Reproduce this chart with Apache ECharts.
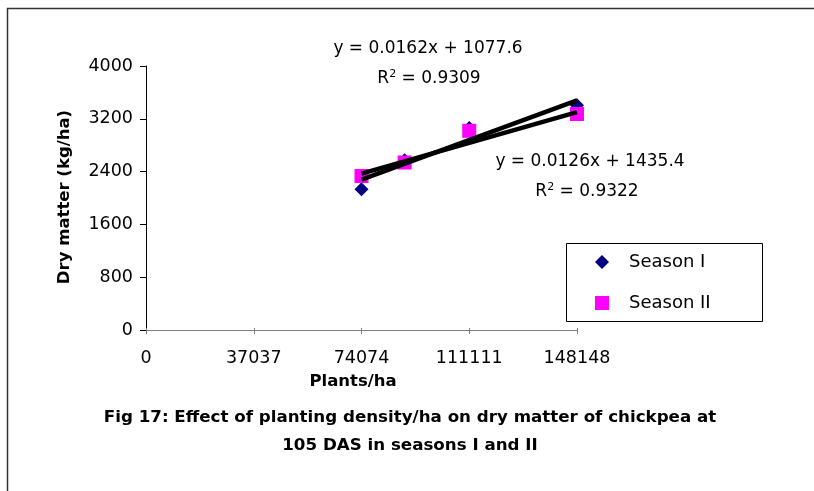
<!DOCTYPE html>
<html>
<head>
<meta charset="utf-8">
<script src="https://cdn.jsdelivr.net/npm/echarts@6/dist/echarts.min.js"></script>
<style>
  html, body { margin: 0; padding: 0; background: #fff; }
  #chart { width: 814px; height: 491px; }
</style>
</head>
<body>
<div id="chart"></div>
<script>
// Plant densities (plants/ha) and dry matter at 105 DAS (kg/ha)
const densities = [74074, 88889, 111111, 148148];
const seasonI = [2132, 2571, 3060, 3404];
const seasonII = [2333, 2538, 3018, 3273];

// Linear trendlines as reported on the chart
const seriesNames = ['Season I', 'Season II'];
const slopes = [0.0162, 0.0126];
const intercepts = [1077.6, 1435.4];
const rSquared = ['0.9309', '0.9322'];

// Axis settings
const xTickStep = 37037;
const xMax = 148148;
const yTickStep = 800;
const yMax = 4000;

const FONT = '"DejaVu Sans", sans-serif';

function pairs(xs, ys) {
  return xs.map((x, i) => [x, ys[i]]);
}
function trend(k) {
  const x0 = densities[0], x1 = densities[densities.length - 1];
  return [[x0, slopes[k] * x0 + intercepts[k]], [x1, slopes[k] * x1 + intercepts[k]]];
}
function eqText(k) {
  return 'y = ' + slopes[k].toFixed(4) + 'x + ' + intercepts[k].toFixed(1);
}

const chart = echarts.init(document.getElementById('chart'), null, { renderer: 'canvas' });

const axisBase = {
  type: 'value',
  min: 0,
  splitLine: { show: false }
};

const eqFont = '17px ' + FONT;
const supRich = { sup: { fontSize: 11, fontFamily: FONT, verticalAlign: 'top', lineHeight: 20 } };

chart.setOption({
  backgroundColor: '#ffffff',
  animation: false,
  grid: { left: 146, top: 66, width: 431, height: 264, outerBoundsMode: 'none' },
  xAxis: [
    Object.assign({}, axisBase, {
      max: xMax, interval: xTickStep, position: 'bottom',
      axisLine: { lineStyle: { color: '#808080', width: 1 } },
      axisTick: { length: 4, lineStyle: { color: '#808080' } },
      axisLabel: { margin: 19, color: '#000', fontFamily: FONT, fontSize: 17.5,
        formatter: v => String(v) }
    }),
    Object.assign({}, axisBase, {
      max: xMax, interval: xTickStep, position: 'bottom',
      axisLine: { show: false },
      axisTick: { inside: true, length: 2, lineStyle: { color: '#808080' } },
      axisLabel: { show: false }
    })
  ],
  yAxis: Object.assign({}, axisBase, {
    max: yMax, interval: yTickStep,
    axisLine: { show: true, lineStyle: { color: '#000', width: 1 } },
    axisTick: { show: true, length: 6, lineStyle: { color: '#000' } },
    axisLabel: { margin: 13, color: '#000', fontFamily: FONT, fontSize: 17.5,
      formatter: v => String(v) }
  }),
  legend: {
    data: seriesNames,
    orient: 'vertical',
    left: 590,
    top: 247,
    itemWidth: 14,
    itemHeight: 14,
    itemGap: 21,
    textStyle: { color: '#000', fontFamily: FONT, fontSize: 18, lineHeight: 20, padding: [0, 0, 0, 15] }
  },
  series: [
    {
      name: seriesNames[0], type: 'scatter', symbol: 'diamond', symbolSize: 14,
      itemStyle: { color: '#000080', opacity: 1 }, data: pairs(densities, seasonI), z: 2
    },
    {
      name: seriesNames[1], type: 'scatter', symbol: 'rect', symbolSize: 14,
      itemStyle: { color: '#FF00FF', opacity: 1 }, data: pairs(densities, seasonII), z: 3
    },
    {
      name: 'trend I', type: 'line', data: trend(0), symbol: 'none', silent: true,
      lineStyle: { color: '#000', width: 4.5 }, z: 4
    },
    {
      name: 'trend II', type: 'line', data: trend(1), symbol: 'none', silent: true,
      lineStyle: { color: '#000', width: 4.5 }, z: 4
    }
  ],
  graphic: [
    // outer frame
    { type: 'polyline', shape: { points: [[7.5, 491], [7.5, 8.5], [814, 8.5]] },
      style: { stroke: '#333', lineWidth: 1.5, fill: null }, silent: true },
    // legend box
    { type: 'rect', shape: { x: 566.5, y: 243.5, width: 196, height: 78 },
      style: { stroke: '#000', lineWidth: 1, fill: null }, silent: true },
    // trendline equations
    { type: 'text', x: 428, y: 49,
      style: { text: eqText(0), font: eqFont, fill: '#000', align: 'center', verticalAlign: 'middle' } },
    { type: 'text', x: 429, y: 79,
      style: { text: 'R{sup|2} = ' + rSquared[0], font: eqFont, fill: '#000',
        align: 'center', verticalAlign: 'middle', rich: supRich } },
    { type: 'text', x: 590, y: 162,
      style: { text: eqText(1), font: eqFont, fill: '#000', align: 'center', verticalAlign: 'middle' } },
    { type: 'text', x: 587, y: 192,
      style: { text: 'R{sup|2} = ' + rSquared[1], font: eqFont, fill: '#000',
        align: 'center', verticalAlign: 'middle', rich: supRich } },
    // axis titles
    { type: 'text', x: 353, y: 382,
      style: { text: 'Plants/ha', font: 'bold 16.5px ' + FONT, fill: '#000', align: 'center', verticalAlign: 'middle' } },
    { type: 'text', x: 65, y: 197, rotation: Math.PI / 2,
      style: { text: 'Dry matter (kg/ha)', font: 'bold 16.5px ' + FONT, fill: '#000', align: 'center', verticalAlign: 'middle' } },
    // caption
    { type: 'text', x: 410, y: 418,
      style: { text: 'Fig 17: Effect of planting density/ha on dry matter of chickpea at',
        font: 'bold 16.7px ' + FONT, fill: '#000', align: 'center', verticalAlign: 'middle' } },
    { type: 'text', x: 410, y: 446,
      style: { text: '105 DAS in seasons I and II',
        font: 'bold 16.7px ' + FONT, fill: '#000', align: 'center', verticalAlign: 'middle' } }
  ]
});
</script>
</body>
</html>
